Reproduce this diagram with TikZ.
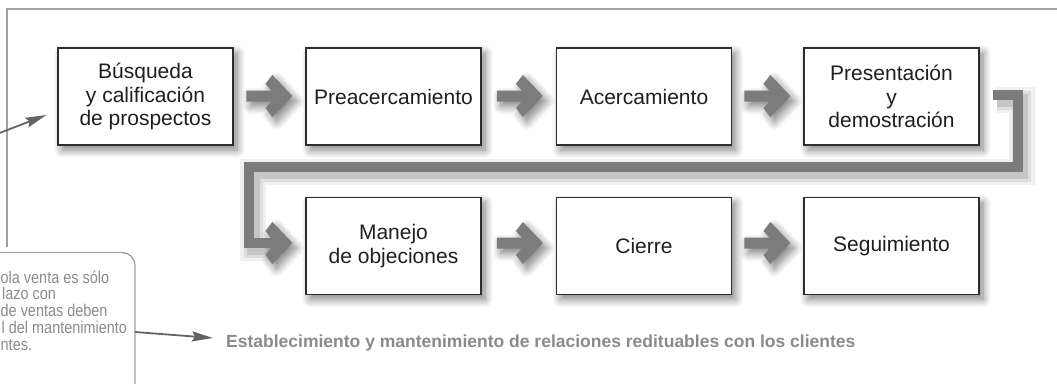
\documentclass[tikz,border=0pt]{standalone}
\usepackage{fontspec}
\setmainfont{Liberation Sans}
\newfontfamily\condfont[FakeStretch=0.85]{Liberation Sans}
\usetikzlibrary{calc,arrows.meta,shadows.blur}
\definecolor{agray}{RGB}{124,124,124}
\definecolor{fgray}{RGB}{160,160,160}
\definecolor{tgray}{RGB}{138,138,138}
\definecolor{lgray}{RGB}{100,100,100}
\definecolor{bline}{RGB}{45,45,45}
\tikzset{
  softshadow/.style={blur shadow={shadow xshift=4pt, shadow yshift=-5pt, shadow blur radius=8pt, shadow opacity=50, shadow blur steps=12}},
  stepbox/.style={draw=bline, line width=1.2pt, fill=white, minimum width=175pt, minimum height=97pt,
    inner sep=0pt, align=center, font=\fontsize{21}{23.5}\selectfont, text=black!88, softshadow},
  barrow/.pic={\fill[agray, softshadow] (-46,5.5) -- (-21,5.5) -- (-27,12) -- (-20,21) -- (0,0)
      -- (-20,-21) -- (-27,-12) -- (-21,-5.5) -- (-46,-5.5) -- cycle;},
  chev/.pic={\fill[agray, softshadow] (-25,5) -- (-21.3,5) -- (-27,12) -- (-20,21) -- (0,0)
      -- (-20,-21) -- (-27,-12) -- (-21.3,-5) -- (-25,-5) -- cycle;},
  calltext/.style={anchor=base west, inner sep=0pt, text=tgray, font=\condfont\fontsize{17}{16}\selectfont},
  thinarrow/.style={draw=lgray, line width=1.8pt, -{Stealth[length=21pt,width=10pt,inset=3pt]}},
}
\begin{document}
\begin{tikzpicture}[x=1pt,y=-1pt]
\useasboundingbox (0,0) rectangle (1057,383);
\clip (0,0) rectangle (1057,383);

% outer frame
\coordinate (f1) at (7,247);
\coordinate (f2) at (7,9);
\coordinate (f3) at (1062,9);
\draw[fgray, line width=1.8pt] (f1) -- (f2) -- (f3);

% boxes
\node[stepbox] (b1) at (145.5,96.5) {Búsqueda\\y calificación\\de prospectos};
\node[stepbox] (b2) at (393.5,96.5) {Preacercamiento};
\node[stepbox] (b3) at (644,96.5) {Acercamiento};
\node[stepbox] (b4) at (891.5,96.5) {Presentación\\y\\demostración};
\node[stepbox] (m1) at (393.5,246) {Manejo\\de objeciones};
\node[stepbox] (m2) at (644,246) {Cierre};
\node[stepbox] (m3) at (891.5,246) {Seguimiento};

% block arrows, row 1
\pic at ($(b2.west)+(-13,-0.5)$) {barrow};
\pic at ($(b3.west)+(-13,-0.5)$) {barrow};
\pic at ($(b4.west)+(-13,-0.5)$) {barrow};
% row 2
\pic at ($(m2.west)+(-13,-3)$) {barrow};
\pic at ($(m3.west)+(-13,-3)$) {barrow};

% L-shaped connector from b4 to m1
\coordinate (tip) at ($(m1.west)+(-13,-3)$);
\coordinate (p6) at ($(tip)+(-23,0)$);
\coordinate (p5) at ($(tip)+(-43,0)$);
\coordinate (p1) at ($(b4.east)+(13,-1.5)$);
\coordinate (p2) at ($(p1)+(25,0)$);
\coordinate (p3) at ($(p2)+(0,72)$);
\coordinate (p4) at (p5 |- p3);
\begin{scope}[transform canvas={shift={(4pt,-5pt)}}]
  \draw[black, opacity=0.06, line width=26pt, miter limit=2] (p1) -- (p2) -- (p3) -- (p4) -- (p5) -- (p6);
  \draw[black, opacity=0.08, line width=19pt] (p1) -- (p2) -- (p3) -- (p4) -- (p5) -- (p6);
  \draw[black, opacity=0.10, line width=13pt] (p1) -- (p2) -- (p3) -- (p4) -- (p5) -- (p6);
\end{scope}
\pic at (tip) {chev};
\draw[agray, line width=10pt, line join=miter] (p1) -- (p2) -- (p3) -- (p4) -- (p5) -- (p6);

% callout
\coordinate (k1) at (-10,252.5);
\coordinate (k2) at (135,252.5);
\coordinate (k3) at (135,395);
\draw[fgray, line width=1.3pt, rounded corners=13pt] (k1) -- (k2) -- (k3);
\node[calltext] (c1) at (0.5,283) {ola venta es sólo};
\node[calltext] (c2) at (2,299.75) {lazo con};
\node[calltext] (c3) at (0.5,316.5) {de ventas deben};
\node[calltext] (c4) at (1.5,333.25) {l del mantenimiento};
\node[calltext] (c5) at (0.5,350) {ntes.};

% bottom text
\node[anchor=base west, inner sep=0pt, text=tgray, font=\bfseries\fontsize{17.5}{20}\selectfont] (est) at (226,347)
  {Establecimiento y mantenimiento de relaciones redituables con los clientes};

% thin arrows
\coordinate (cs) at (135,332);
\draw[thinarrow] (cs) -- ($(est.base west)+(-13,-9)$);
\coordinate (ts) at (-3,134);
\draw[thinarrow] (ts) -- ($(b1.west)+(-11,18.5)$);
\end{tikzpicture}
\end{document}
